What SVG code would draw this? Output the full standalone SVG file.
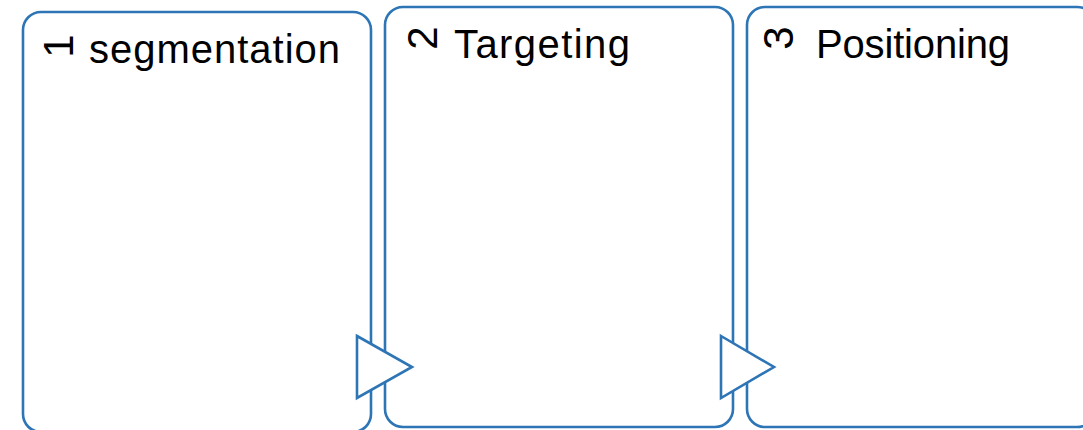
<svg xmlns="http://www.w3.org/2000/svg" width="1083" height="430" viewBox="0 0 1083 430">
<style>
.box{fill:#ffffff;stroke:#2E75B6;stroke-width:2.6}
.arr{fill:#ffffff;stroke:#2E75B6;stroke-width:2.6;stroke-linejoin:miter}
.t{font-family:"Liberation Sans",Arial,sans-serif;font-size:40px;fill:#000000}
.n{font-family:"Liberation Sans",Arial,sans-serif;font-size:42px;fill:#000000}
</style>
<rect width="1083" height="430" fill="#ffffff"/>
<g id="node-segmentation">
<rect class="box" x="23" y="12" width="348" height="420" rx="18" ry="18"/>
<text class="n" transform="translate(73,46) rotate(-90)" text-anchor="middle">1</text>
<text class="t" x="89" y="63" textLength="251">segmentation</text>
</g>
<g id="node-targeting">
<rect class="box" x="385" y="7" width="348" height="420" rx="18" ry="18"/>
<text class="n" transform="translate(437,38) rotate(-90)" text-anchor="middle">2</text>
<text class="t" x="454" y="58" textLength="176">Targeting</text>
</g>
<g id="node-positioning">
<rect class="box" x="747" y="7" width="348" height="420" rx="18" ry="18"/>
<text class="n" transform="translate(793,38) rotate(-90)" text-anchor="middle">3</text>
<text class="t" x="816" y="58" textLength="194">Positioning</text>
</g>
<g id="connectors">
<polygon class="arr" points="357,336 412,367 357,398"/>
<polygon class="arr" points="721,336 774,367 721,398"/>
</g>
</svg>
